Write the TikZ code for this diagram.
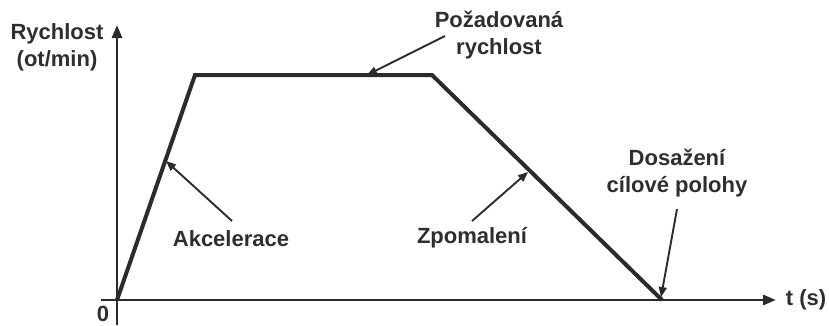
\documentclass[tikz,border=0pt]{standalone}
\usepackage{fontspec}
\setmainfont{Liberation Sans}
\usetikzlibrary{arrows.meta}
\definecolor{ink}{HTML}{2B2B2B}
\definecolor{txt}{HTML}{2E2E2E}
\begin{document}
\begin{tikzpicture}[x=1pt,y=-1pt,
  lbl/.style={font=\fontsize{22}{27}\selectfont\bfseries, text=txt, align=center, inner sep=0pt},
  axis/.style={draw=ink, line width=2.8pt, -{Triangle[length=13pt,width=10pt]}},
  curve/.style={draw=ink, line width=4pt, line join=miter},
  pointer/.style={draw=ink, line width=1.9pt, -{Triangle[length=10pt,width=8pt]}}]
\useasboundingbox (0,0) rectangle (829,325);
% axes
\coordinate (ybot) at (117,325);
\coordinate (ytop) at (117,25);
\coordinate (xl) at (101,300);
\coordinate (xr) at (776,300);
\draw[axis] (ybot) -- (ytop);
\draw[axis] (xl) -- (xr);
% profile
\coordinate (p0) at (117,300);
\coordinate (p1) at (195,75);
\coordinate (p2) at (432,75);
\coordinate (p3) at (662,300);
\draw[curve] (p0) -- (p1) -- (p2) -- (p3);
% labels
\node[lbl] (ylab) at (57,47) {Rychlost\\(ot/min)};
\node[lbl] (zero) at (103,314) {0};
\node[lbl] (tlab) at (806,300) {t (s)};
\node[lbl] (poz) at (499,35) {Požadovaná\\rychlost};
\node[lbl] (akc) at (231,239) {Akcelerace};
\node[lbl] (zpo) at (472,238) {Zpomalení};
\node[lbl] (dos) at (677,173) {Dosažení\\cílové polohy};
% pointers
\coordinate (pozs) at (445,36);
\coordinate (poze) at (367,75);
\coordinate (akcs) at (232,221);
\coordinate (akce) at (166,161);
\coordinate (zpos) at (472,221);
\coordinate (zpoe) at (528,172);
\coordinate (doss) at (677,209);
\coordinate (dose) at (661,297);
\draw[pointer] (pozs) -- (poze);
\draw[pointer] (akcs) -- (akce);
\draw[pointer] (zpos) -- (zpoe);
\draw[pointer] (doss) -- (dose);
\end{tikzpicture}
\end{document}
